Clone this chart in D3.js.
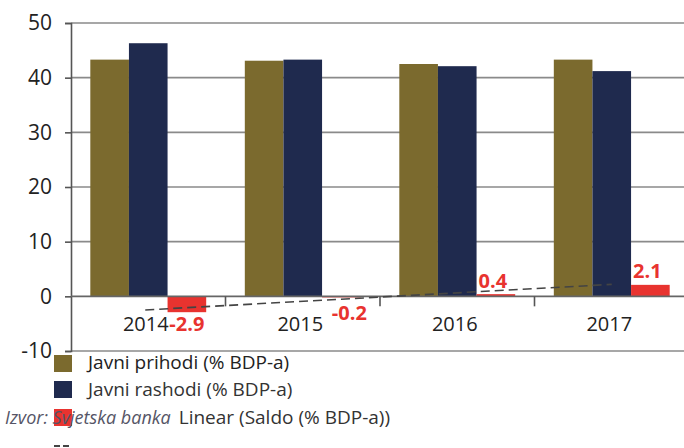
<!DOCTYPE html>
<html><head><meta charset="utf-8">
<script src="https://cdn.jsdelivr.net/npm/d3@7"></script>
<style>
html,body{margin:0;padding:0;background:#fff;}
svg{display:block;font-family:"Open Sans",Lato,sans-serif;}
</style></head>
<body><svg id="c" width="684" height="448"></svg>
<script>
const years = ["2014","2015","2016","2017"];
const prihodi = [43.3, 43.1, 42.5, 43.3];
const rashodi = [46.3, 43.3, 42.1, 41.2];
const saldo = [-2.9, -0.2, 0.4, 2.1];
const yTicks = [-10, 0, 10, 20, 30, 40, 50];
const seriesNames = ["Javni prihodi (% BDP-a)", "Javni rashodi (% BDP-a)", "Saldo (% BDP-a)", "Linear (Saldo (% BDP-a))"];
const sourceText = "Izvor: Svjetska banka";
const colors = ["#7b6a2e", "#1f2a4e", "#e8332f"];

(function(){
const svg = d3.select("#c");
const FS = 20, LFS = 19;
const pL = 71, pR = 689, pT = 23, pB = 351;
const y = d3.scaleLinear().domain([-10, 50]).range([pB, pT]);
const x0 = d3.scaleBand().domain(years).range([pL, pR]).paddingInner(0.25).paddingOuter(0.125);
const x1 = d3.scaleBand().domain([0,1,2]).range([0, x0.bandwidth()]);
const fmt1 = d => d.toFixed(1);

// gridlines
svg.append("g").selectAll("line").data(yTicks.filter(t => t !== 0)).join("line")
  .attr("x1", pL).attr("x2", 684).attr("y1", d => y(d)).attr("y2", d => y(d))
  .attr("stroke", "#8a8a8a").attr("stroke-width", 1.6);

// y axis
const ya = svg.append("g").attr("transform", `translate(${pL},0)`)
  .call(d3.axisLeft(y).tickValues(yTicks).tickSize(6).tickFormat(d => String(d)));
ya.select(".domain").attr("stroke", "#555").attr("stroke-width", 1.6);
ya.selectAll(".tick line").attr("stroke", "#555").attr("stroke-width", 1.6);
ya.selectAll(".tick text").attr("font-size", 21).attr("fill", "#222").attr("x", -19)
  .attr("font-family", "'Open Sans'");

// bars
const series = [prihodi, rashodi, saldo];
const g = svg.append("g");
series.forEach((vals, si) => {
  g.selectAll(null).data(vals).join("rect")
    .attr("x", (d, i) => x0(years[i]) + x1(si))
    .attr("width", x1.bandwidth())
    .attr("y", d => y(Math.max(0, d)))
    .attr("height", d => Math.abs(y(d) - y(0)))
    .attr("fill", colors[si]);
});

// x axis at zero
svg.append("line").attr("x1", pL).attr("x2", 684).attr("y1", y(0)).attr("y2", y(0))
  .attr("stroke", "#666").attr("stroke-width", 1.8);
const bounds = years.slice(1).map((d) => x0(d) - x0.step() * x0.paddingInner() / 2);
svg.append("g").selectAll("line").data(bounds).join("line")
  .attr("x1", d => d).attr("x2", d => d).attr("y1", y(0)).attr("y2", y(0) + 10)
  .attr("stroke", "#555").attr("stroke-width", 1.6);
svg.append("g").selectAll("text").data(years).join("text")
  .attr("x", d => x0(d) + x0.bandwidth() / 2 - 2.5).attr("y", y(0) + 35)
  .attr("text-anchor", "middle").attr("font-size", FS).attr("fill", "#222").text(d => d);

// linear trendline of saldo
const n = saldo.length;
const xs = saldo.map((d, i) => i + 1);
const mx = d3.mean(xs), my = d3.mean(saldo);
const slope = d3.sum(xs.map((xv, i) => (xv - mx) * (saldo[i] - my))) / d3.sum(xs.map(xv => (xv - mx) ** 2));
const icpt = my - slope * mx;
const cx = i => x0(years[i]) + x0.bandwidth() / 2;
svg.append("line")
  .attr("x1", cx(0) - 3).attr("y1", y(icpt + slope * 1))
  .attr("x2", cx(n - 1)).attr("y2", y(icpt + slope * n))
  .attr("stroke", "#444").attr("stroke-width", 1.6).attr("stroke-dasharray", "9,5");

// data labels for saldo
const lblOff = [[0, 35], [8, 24], [-3, -6], [-3, -7]];
svg.append("g").selectAll("text").data(saldo).join("text")
  .attr("x", (d, i) => x0(years[i]) + x1(2) + x1.bandwidth() / 2 + lblOff[i][0])
  .attr("y", (d, i) => (d < 0 ? y(0) : y(d)) + lblOff[i][1])
  .attr("text-anchor", "middle").attr("font-size", FS).attr("font-weight", "bold")
  .attr("fill", "#e8332f").text(fmt1);

// legend
const lg = svg.append("g");
const rowY = [364, 390, 418, 446];
[0,1,2].forEach(i => {
  lg.append("rect").attr("x", 54).attr("y", rowY[i] - 9).attr("width", 18).attr("height", 17).attr("fill", colors[i]);
});
lg.append("line").attr("x1", 54).attr("x2", 72).attr("y1", rowY[3]).attr("y2", rowY[3])
  .attr("stroke", "#444").attr("stroke-width", 2).attr("stroke-dasharray", "6,3");
lg.append("text").attr("x", 88).attr("y", 369).attr("font-size", LFS).attr("fill", "#222").text(seriesNames[0]);
lg.append("text").attr("x", 88).attr("y", 396).attr("font-size", LFS).attr("fill", "#333").text(seriesNames[1]);
const src = lg.append("text").attr("x", 5).attr("y", 424).attr("font-size", 18).attr("font-style", "italic").attr("fill", "#556").text(sourceText);
const srcEnd = 5 + src.node().getComputedTextLength();
const lin = lg.append("text").attr("y", 424).attr("font-size", LFS).attr("fill", "#333").text(seriesNames[3]);
const linW = lin.node().getComputedTextLength();
lin.attr("x", Math.max(srcEnd + 8, 380 - linW));
})();
</script></body></html>
